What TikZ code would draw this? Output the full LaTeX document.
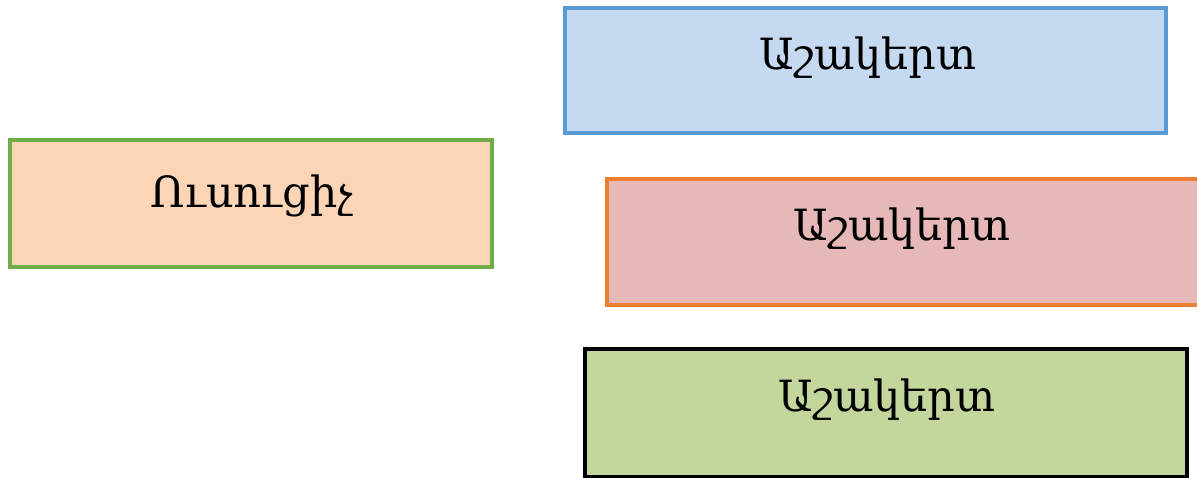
\documentclass[tikz,border=0pt]{standalone}
\usepackage{fontspec}
\newfontfamily\armfont{DejaVu Serif}
\definecolor{bluebd}{HTML}{5B9BD5}
\definecolor{bluefl}{HTML}{C5D9F1}
\definecolor{orgbd}{HTML}{ED7D31}
\definecolor{pinkfl}{HTML}{E6B8B7}
\definecolor{grnbd}{HTML}{70AD47}
\definecolor{peachfl}{HTML}{FBD5B5}
\definecolor{olivefl}{HTML}{C3D69B}
\tikzset{
  box/.style={draw, line width=4.5pt, rectangle, inner sep=0pt},
  lbl/.style={font=\armfont\fontsize{43}{50}\selectfont, anchor=base, inner sep=0pt},
}
\begin{document}
\begin{tikzpicture}[x=1pt,y=-1pt]
\useasboundingbox (0,0) rectangle (1197,477);
\node[box, draw=grnbd, fill=peachfl, minimum width=482pt, minimum height=127pt] (teacher) at (251,203.5) {};
\node[box, draw=bluebd, fill=bluefl, minimum width=601pt, minimum height=125pt] (s1) at (865.5,70.5) {};
\node[box, draw=orgbd, fill=pinkfl, minimum width=592pt, minimum height=126pt] (s2) at (903,242) {};
\node[box, draw=black, fill=olivefl, minimum width=602pt, minimum height=128pt] (s3) at (886,413) {};
\node[lbl] (tt) at (252,207) {Ուսուցիչ};
\node[lbl] (t1) at (868,69) {Աշակերտ};
\node[lbl] (t2) at (902,240) {Աշակերտ};
\node[lbl] (t3) at (887,411) {Աշակերտ};
\end{tikzpicture}
\end{document}
